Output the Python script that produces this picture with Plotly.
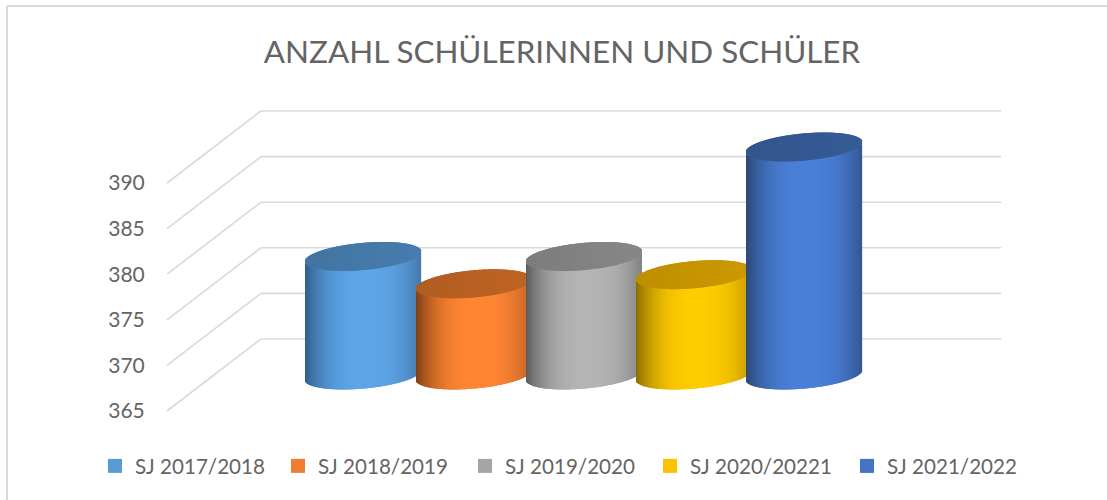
import numpy as np
import plotly.graph_objects as go

title = "ANZAHL SCHÜLERINNEN UND SCHÜLER"
categories = ["SJ 2017/2018", "SJ 2018/2019", "SJ 2019/2020", "SJ 2020/20221", "SJ 2021/2022"]
values = [378, 375, 378, 376, 390]
ticks = [365, 370, 375, 380, 385, 390]
legend_colors = ["#5b9bd5", "#ed7d31", "#a5a5a5", "#ffc000", "#4472c4"]
legend_text_x = [135, 318, 505, 690, 887]
center_colors = ["#5da5e8", "#ff8533", "#b4b4b4", "#ffcc00", "#4a7fd8"]
left_colors = ["#2f5d87", "#7a3d12", "#5a5a5a", "#8a6a00", "#2a4674"]
right_colors = ["#3d6c98", "#aa5720", "#747474", "#b08600", "#2c4a7c"]
cap_colors = ["#4377a6", "#b55f22", "#808080", "#c39200", "#33578f"]

PX_X, PX_Y = 110.25, 9.12          # px per category / per value unit
X0_PX, Y365_PX = 363.5, 411
W, H = 1107, 500
x_range = [-X0_PX / PX_X, (W - X0_PX) / PX_X]
y_range = [365 - (H - Y365_PX) / PX_Y, 365 + Y365_PX / PX_Y]

DEPTH_X, DEPTH_Y = 94 / PX_X, 72 / PX_Y
MID_Y = DEPTH_Y / 2
HALF_W = 58 / PX_X
TILT, MINOR = 5 / PX_Y, 13.6 / PX_Y
WALL_L, WALL_R = (167 - X0_PX) / PX_X, (1001 - X0_PX) / PX_X


def rgb(c):
    return np.array([int(c[i:i + 2], 16) for i in (1, 3, 5)], float)


def hexc(a):
    return "rgb(%d,%d,%d)" % tuple(np.clip(a, 0, 255).round())


fig = go.Figure()
shapes = []
line = dict(color="#d9d9d9", width=1.6)
for t in ticks:
    shapes.append(dict(type="line", layer="below", xref="x", yref="y", x0=WALL_L, y0=t,
                       x1=WALL_L + DEPTH_X, y1=t + DEPTH_Y, line=line))
    shapes.append(dict(type="line", layer="below", xref="x", yref="y", x0=WALL_L + DEPTH_X, y0=t + DEPTH_Y,
                       x1=WALL_R, y1=t + DEPTH_Y, line=line))
frame = dict(color="#d9d9d9", width=2)
shapes.append(dict(type="line", xref="paper", yref="paper", x0=7 / W, y0=1 - 6 / H, x1=1, y1=1 - 6 / H, line=frame))
shapes.append(dict(type="line", xref="paper", yref="paper", x0=7 / W, y0=1 - 6 / H, x1=7 / W, y1=0, line=frame))

font = "Lato, 'Open Sans', sans-serif"
TEXT = "#646464"
legends = {}
for k, (name, col, tx) in enumerate(zip(categories, legend_colors, legend_text_x)):
    key = "legend" if k == 0 else f"legend{k + 1}"
    fig.add_trace(go.Scatter(x=[None], y=[None], name=name, mode="markers", legend=key, showlegend=True,
                             marker=dict(symbol="square", size=14, color=col), hoverinfo="skip"))
    legends[key] = dict(orientation="h", x=(tx - 40) / W, xanchor="left", y=1 - 466 / H, yanchor="middle",
                        font=dict(family=font, size=20.6, color=TEXT), bgcolor="rgba(0,0,0,0)",
                        itemwidth=30)

u = np.linspace(-1, 1, 117)[1:-1]
step = HALF_W * (u[1] - u[0])
for i, v in enumerate(values):
    x = i + HALF_W * u
    arc = MINOR * np.sqrt(1 - u ** 2)
    low = 365 + MID_Y + TILT * u - arc
    top_low = v + MID_Y + TILT * u - arc
    top_up = v + MID_Y + TILT * u + arc
    c, l, r = rgb(center_colors[i]), rgb(left_colors[i]), rgb(right_colors[i])
    body = []
    for a in u:
        d = a - 0.05
        edge = l if d < 0 else r
        f = 1 - (abs(d) / 1.05) ** 2.6
        body.append(hexc(edge + (c - edge) * f))
    cap = rgb(cap_colors[i])
    cap_cols = [hexc(cap * (1 + 0.04 * (a + 0.3))) for a in u]
    fig.add_trace(go.Bar(x=x, y=top_low - low, base=low, width=step * 1.3, marker=dict(color=body, line_width=0),
                         showlegend=False, hoverinfo="skip"))
    fig.add_trace(go.Bar(x=x, y=top_up - top_low, base=top_low, width=step * 1.3, marker=dict(color=cap_cols, line_width=0),
                         showlegend=False, hoverinfo="skip"))

fig.update_layout(
    width=W, height=H, autosize=False, margin=dict(l=0, r=0, t=0, b=0),
    paper_bgcolor="white", plot_bgcolor="white", barmode="overlay", shapes=shapes,
    title=dict(text=title, x=562 / W, xanchor="center", xref="paper", y=1 - 52 / H, yanchor="middle",
               yref="container", font=dict(family=font, size=31.4, color=TEXT)),
    xaxis=dict(range=x_range, visible=False, domain=[0, 1]),
    yaxis=dict(range=y_range, tickvals=ticks, showgrid=False, zeroline=False, showline=False, anchor="free",
               position=167 / W, ticks="outside", ticklen=18, tickcolor="rgba(0,0,0,0)",
               tickfont=dict(family=font, size=21, color=TEXT)),
    **legends,
)
fig.write_html("out.html", config={"displayModeBar": False}, post_script="document.body.style.margin='0';")
